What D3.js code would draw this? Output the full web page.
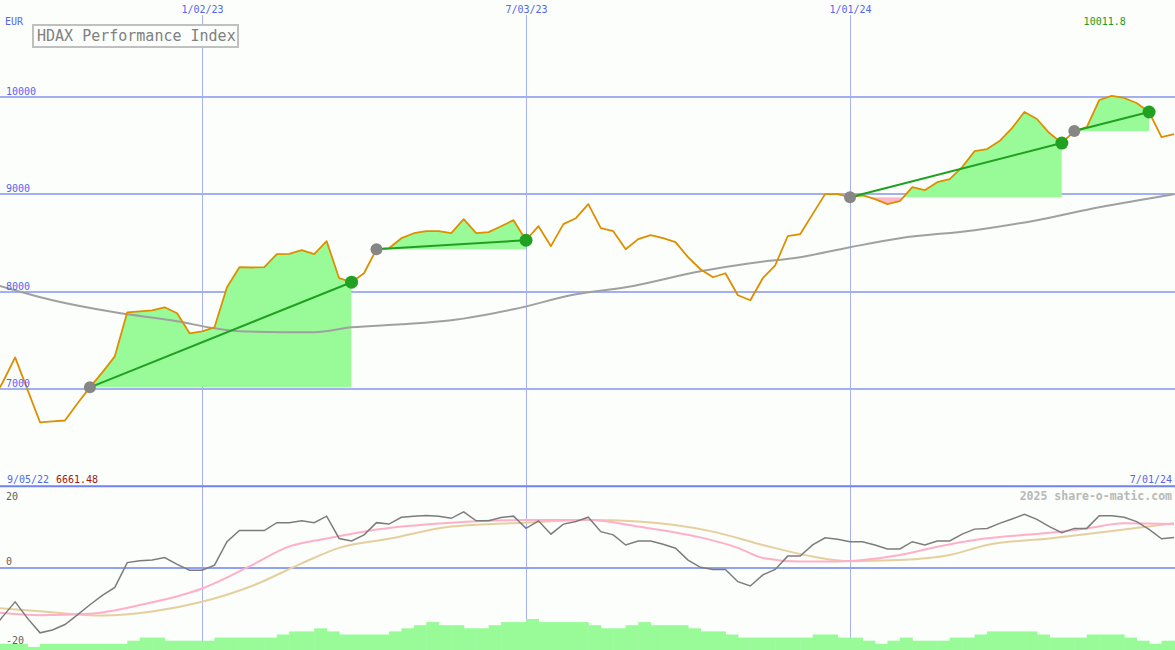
<!DOCTYPE html>
<html><head><meta charset="utf-8">
<script src="https://cdn.jsdelivr.net/npm/d3@7"></script>
<style>html,body{margin:0;padding:0;background:#fbfefb;} svg{display:block;}</style>
</head><body><svg id="c" width="1175" height="650"></svg>
<script>
// ---------------- DATA ----------------
const startDate = "2022-09-05";
const endDate = "2024-07-01";
const title = "HDAX Performance Index";
const currency = "EUR";
const xTickDates = ["2023-01-02", "2023-07-03", "2024-01-01"];
const yTicks = [7000, 8000, 9000, 10000];
const lowerTicks = [20, 0, -20];

// weekly closes
const price = [6850, 7070, 7328, 6994, 6661.48, 6670, 6680, 6855, 7020, 7174,
  7338, 7790, 7800, 7811, 7842, 7780, 7575, 7595, 7636, 8047,
  8253, 8250, 8253, 8387, 8390, 8428, 8387, 8520, 8140, 8099,
  8191, 8438, 8448, 8551, 8602, 8623, 8623, 8602, 8746, 8602,
  8613, 8674, 8736, 8530, 8674, 8469, 8695, 8756, 8900, 8654,
  8623, 8438, 8541, 8582, 8551, 8510, 8356, 8232, 8150, 8191,
  7965, 7914, 8140, 8273, 8571, 8592, 8798, 9003, 9003, 8972,
  8993, 8952, 8900, 8931, 9075, 9044, 9126, 9157, 9281, 9445,
  9466, 9548, 9681, 9846, 9774, 9630, 9527, 9651, 9692, 9969,
  10011.8, 9990, 9938, 9846, 9589, 9620];

// long moving average (week index, value)
const maWeeks  = [0, 5, 10, 15, 18, 20, 26, 29, 33, 37, 42, 47, 51, 57, 61, 65, 69, 73, 79, 84, 89, 95];
const maValues = [8089, 7914, 7790, 7698, 7626, 7595, 7585, 7636, 7667, 7708, 7821, 7975, 8047, 8212, 8294, 8356, 8458, 8551, 8633, 8736, 8869, 9003];

// trend segments: [start week, end week]
const trendStarts = [8, 31, 69, 87];
const trendEnds   = [29, 43, 86, 93];

// lower panel: momentum (weekly)
const momentum = [-18, -13.5, -9.4, -14, -18.0, -17.2, -15.7, -13.0, -10.2, -7.6,
  -5.4, 1.5, 2.0, 2.2, 2.9, 1.0, -0.6, -0.6, 0.8, 7.3,
  10.4, 10.4, 10.4, 12.6, 12.6, 13.1, 12.6, 14.4, 8.2, 7.5,
  9.2, 12.6, 12.2, 14.1, 14.4, 14.6, 14.4, 13.8, 15.6, 13.1,
  13.1, 14.0, 14.4, 11.0, 13.1, 9.4, 12.2, 12.9, 14.1, 10.1,
  9.2, 6.4, 7.5, 7.5, 6.6, 5.5, 2.2, 0.2, -0.4, -0.4,
  -3.8, -5.0, -1.9, -0.4, 3.3, 3.3, 6.4, 8.4, 8.0, 7.3,
  7.3, 6.4, 5.3, 5.3, 7.3, 6.4, 7.5, 7.5, 9.4, 10.8,
  11.0, 12.4, 13.6, 14.9, 13.5, 11.5, 9.8, 11.0, 11.0, 14.5,
  14.5, 14.1, 12.9, 10.7, 8.1, 8.5];

// smoothed momentum lines (week index, value)
const pinkWeeks  = [0, 4, 8, 12, 17, 21, 24, 27, 31, 37, 43, 48, 52, 57, 60, 62, 65, 68, 70, 73, 76, 79, 85, 88, 91, 95];
const pinkValues = [-12.2, -13.1, -12.7, -10.3, -5.7, 0.8, 6.0, 8.2, 10.7, 12.6, 13.3, 13.3, 11.5, 8.5, 5.6, 2.8, 1.8, 1.8, 2.2, 3.6, 5.9, 7.8, 9.8, 11.0, 12.4, 12.2];
const tanWeeks   = [0, 4, 9, 13, 17, 21, 25, 28, 32, 37, 43, 48, 52, 58, 62, 66, 69, 73, 77, 80, 85, 91, 95];
const tanValues  = [-11.0, -12.0, -13.2, -12.1, -9.4, -5.0, 1.3, 5.6, 8.1, 11.5, 12.6, 13.3, 12.9, 10.1, 6.4, 3.2, 1.9, 2.2, 3.6, 6.4, 8.2, 10.7, 12.4];

// activity bars (weekly, relative units)
const bars = [2, 2, 2, 1, 2, 2, 2, 2, 2, 2,
  2, 3, 4, 4, 3, 3, 3, 3, 4, 4,
  4, 4, 4, 5, 6, 6, 7, 6, 5, 5,
  5, 5, 6, 7, 8, 9, 8, 8, 7, 7,
  8, 9, 9, 10, 9, 9, 9, 9, 8, 7,
  7, 8, 9, 8, 8, 8, 7, 6, 6, 5,
  4, 4, 4, 4, 4, 4, 5, 5, 4, 4,
  3, 2, 3, 4, 3, 3, 3, 4, 4, 5,
  6, 6, 6, 6, 5, 4, 4, 4, 5, 5,
  5, 4, 3, 2, 3, 3];

// ---------------- DRAW ----------------
const W = 1175, H = 650;
const bg = "#fbfefb";
const parse = d3.utcParse("%Y-%m-%d");
const fmt = d3.utcFormat("%-m/%d/%y");
const t0 = parse(startDate), t1 = parse(endDate);
const dates = price.map((_, i) => d3.utcDay.offset(t0, 7 * i));

const x = d3.scaleUtc().domain([t0, t1]).range([-9.8, 1174]);
const y = d3.scaleLinear().domain([7000, 10000]).range([389.3, 97]);
const yl = d3.scaleLinear().domain([-20, 20]).range([640, 496]);
const yb = d3.scaleLinear().domain([0, 10]).range([650, 619]);

const svg = d3.select("#c");
svg.append("rect").attr("width", W).attr("height", H).attr("fill", bg);
const defs = svg.append("defs");
defs.append("clipPath").attr("id", "clipTop").append("rect").attr("x", 0).attr("y", 0).attr("width", W).attr("height", 485);
defs.append("clipPath").attr("id", "clipBot").append("rect").attr("x", 0).attr("y", 488).attr("width", W).attr("height", H - 488);

const mono = "'DejaVu Sans Mono', 'Liberation Mono', monospace";
const blue = "#5565ee";

// vertical grid
xTickDates.forEach(ds => {
  const xx = Math.round(x(parse(ds))) + 0.5;
  svg.append("line").attr("x1", xx).attr("x2", xx).attr("y1", 15).attr("y2", H)
    .attr("stroke", "#a8b2f2").attr("stroke-width", 1);
  svg.append("text").attr("x", xx).attr("y", 12.5).attr("text-anchor", "middle")
    .attr("font-family", mono).attr("font-size", 10).attr("fill", blue).text(fmt(parse(ds)));
});

// horizontal grid main
yTicks.forEach(v => {
  const yy = Math.round(y(v));
  svg.append("line").attr("x1", 0).attr("x2", W).attr("y1", yy).attr("y2", yy)
    .attr("stroke", "#a2b0f2").attr("stroke-width", 2);
});

const gTop = svg.append("g").attr("clip-path", "url(#clipTop)");

// trend fills
trendStarts.forEach((s, j) => {
  const e = trendEnds[j];
  const base = price[s];
  const idx = d3.range(s, e + 1);
  const area = d3.area().x(i => x(dates[i])).y0(y(base)).y1(i => y(price[i]));
  const xa = x(dates[s]), xb = x(dates[e]);
  defs.append("clipPath").attr("id", "up" + j).append("rect")
    .attr("x", xa).attr("y", 0).attr("width", xb - xa).attr("height", y(base));
  defs.append("clipPath").attr("id", "dn" + j).append("rect")
    .attr("x", xa).attr("y", y(base)).attr("width", xb - xa).attr("height", 485 - y(base));
  gTop.append("path").attr("d", area(idx)).attr("fill", "#98fb98").attr("clip-path", `url(#up${j})`);
  gTop.append("path").attr("d", area(idx)).attr("fill", "#ffb6c8").attr("clip-path", `url(#dn${j})`);
});

// moving average
gTop.append("path").datum(maWeeks.map((w, i) => [x(d3.utcDay.offset(t0, 7 * w)), y(maValues[i])]))
  .attr("d", d3.line().curve(d3.curveMonotoneX)).attr("fill", "none").attr("stroke", "#a0a0a0").attr("stroke-width", 2);

// price
gTop.append("path").datum(price)
  .attr("d", d3.line().x((d, i) => x(dates[i])).y(d => y(d)))
  .attr("fill", "none").attr("stroke", "#dd8f00").attr("stroke-width", 1.8).attr("stroke-linejoin", "round");

// trend lines & dots
trendStarts.forEach((s, j) => {
  const e = trendEnds[j];
  gTop.append("line").attr("x1", x(dates[s])).attr("y1", y(price[s]))
    .attr("x2", x(dates[e])).attr("y2", y(price[e]))
    .attr("stroke", "#20a020").attr("stroke-width", 2);
});
trendStarts.forEach((s, j) => {
  const e = trendEnds[j];
  gTop.append("circle").attr("cx", x(dates[s])).attr("cy", y(price[s])).attr("r", 6).attr("fill", "#868686");
  gTop.append("circle").attr("cx", x(dates[e])).attr("cy", y(price[e])).attr("r", 6.5).attr("fill", "#22a022");
});

// y labels main
yTicks.forEach(v => {
  svg.append("text").attr("x", 6).attr("y", Math.round(y(v)) - 2)
    .attr("font-family", mono).attr("font-size", 10).attr("fill", blue).text(v);
});

// title box
svg.append("rect").attr("x", 33).attr("y", 25).attr("width", 205).attr("height", 22)
  .attr("fill", bg).attr("stroke", "#c0c0c0").attr("stroke-width", 2);
svg.append("text").attr("x", 37).attr("y", 41).attr("font-family", mono).attr("font-size", 15)
  .attr("fill", "#808080").text(title);
svg.append("text").attr("x", 5).attr("y", 25).attr("font-family", mono).attr("font-size", 10)
  .attr("fill", blue).text(currency);

// max / min labels
const maxI = d3.maxIndex(price), minI = d3.minIndex(price);
svg.append("text").attr("x", x(dates[maxI]) - 7).attr("y", 25).attr("text-anchor", "middle")
  .attr("font-family", mono).attr("font-size", 10).attr("fill", "#1a9a1a").text(price[maxI]);
svg.append("text").attr("x", 7).attr("y", 483).attr("font-family", mono).attr("font-size", 10)
  .attr("fill", blue).text(fmt(t0));
svg.append("text").attr("x", 56).attr("y", 483).attr("font-family", mono).attr("font-size", 10)
  .attr("fill", "#a01818").text(price[minI]);
svg.append("text").attr("x", 1172).attr("y", 483).attr("text-anchor", "end").attr("font-family", mono)
  .attr("font-size", 10).attr("fill", blue).text(fmt(t1));

// separator
svg.append("line").attr("x1", 0).attr("x2", W).attr("y1", 486.3).attr("y2", 486.3)
  .attr("stroke", "#7282f0").attr("stroke-width", 2);

// lower panel
const gBot = svg.append("g").attr("clip-path", "url(#clipBot)");
gBot.selectAll("rect.bar").data(bars).enter().append("rect")
  .attr("x", (d, i) => x(dates[i]))
  .attr("width", (d, i) => x(d3.utcDay.offset(dates[i], 7)) - x(dates[i]) + 0.5)
  .attr("y", d => yb(d)).attr("height", d => yb(0) - yb(d))
  .attr("fill", "#98fb98");

gBot.append("line").attr("x1", 0).attr("x2", W).attr("y1", Math.round(yl(0))).attr("y2", Math.round(yl(0)))
  .attr("stroke", "#92a2f2").attr("stroke-width", 2);

gBot.append("path").datum(tanWeeks.map((w, i) => [x(d3.utcDay.offset(t0, 7 * w)), yl(tanValues[i])]))
  .attr("d", d3.line().curve(d3.curveMonotoneX)).attr("fill", "none").attr("stroke", "#e6cf9e").attr("stroke-width", 2);
gBot.append("path").datum(pinkWeeks.map((w, i) => [x(d3.utcDay.offset(t0, 7 * w)), yl(pinkValues[i])]))
  .attr("d", d3.line().curve(d3.curveMonotoneX)).attr("fill", "none").attr("stroke", "#ffb0c8").attr("stroke-width", 2);
gBot.append("path").datum(momentum)
  .attr("d", d3.line().x((d, i) => x(dates[i])).y(d => yl(d)))
  .attr("fill", "none").attr("stroke", "#7c7c7c").attr("stroke-width", 1.5);

lowerTicks.forEach(v => {
  svg.append("text").attr("x", 6).attr("y", v === 0 ? yl(v) - 3 : yl(v) + 4)
    .attr("font-family", mono).attr("font-size", 10).attr("fill", "#606060").text(v);
});

svg.append("text").attr("x", 1172).attr("y", 500).attr("text-anchor", "end").attr("font-family", mono)
  .attr("font-size", 11.5).attr("font-weight", "bold").attr("fill", "#b8b8b8").text("2025 share-o-matic.com");
</script>
</body></html>
